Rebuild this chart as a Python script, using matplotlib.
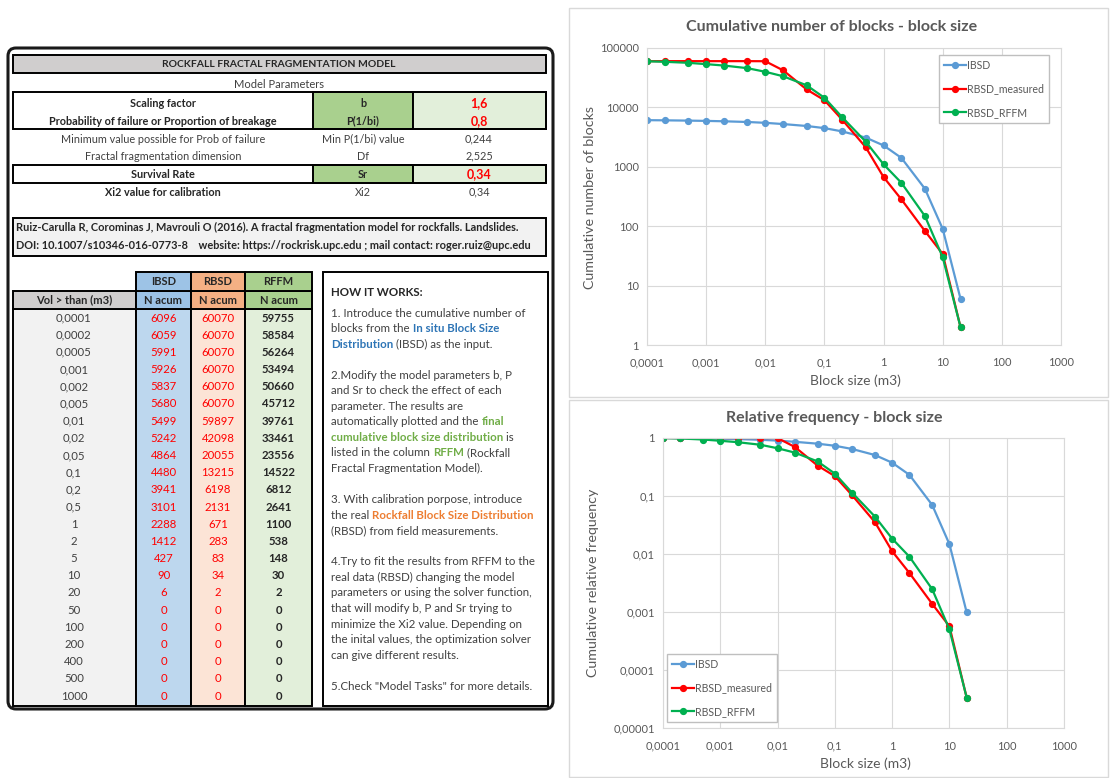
import numpy as np
import matplotlib
matplotlib.use("Agg")
import matplotlib.pyplot as plt
from matplotlib.patches import Rectangle, FancyBboxPatch
from matplotlib.ticker import FixedLocator, FixedFormatter, NullLocator

plt.rcParams["font.family"] = ["Lato", "DejaVu Sans"]

# ---- data ----
sizes = [0.0001, 0.0002, 0.0005, 0.001, 0.002, 0.005, 0.01, 0.02, 0.05, 0.1,
         0.2, 0.5, 1, 2, 5, 10, 20, 50, 100, 200, 400, 500, 1000]
ibsd = [6096, 6059, 5991, 5926, 5837, 5680, 5499, 5242, 4864, 4480, 3941, 3101,
        2288, 1412, 427, 90, 6, 0, 0, 0, 0, 0, 0]
rbsd = [60070, 60070, 60070, 60070, 60070, 60070, 59897, 42098, 20055, 13215,
        6198, 2131, 671, 283, 83, 34, 2, 0, 0, 0, 0, 0, 0]
rffm = [59755, 58584, 56264, 53494, 50660, 45712, 39761, 33461, 23556, 14522,
        6812, 2641, 1100, 538, 148, 30, 2, 0, 0, 0, 0, 0, 0]

series_names = ["IBSD", "RBSD_measured", "RBSD_RFFM"]
series_colors = ["#5B9BD5", "#FF0000", "#00B050"]

param_names = ["Scaling factor", "Probability of failure or Proportion of breakage",
               "Minimum value possible for Prob of failure", "Fractal fragmentation dimension",
               "Survival Rate", "Xi2 value for calibration"]
param_symbols = ["b", "P(1/bi)", "Min P(1/bi) value", "Df", "Sr", "Xi2"]
param_values = ["1,6", "0,8", "0,244", "2,525", "0,34", "0,34"]

citation = ["Ruiz-Carulla R, Corominas J, Mavrouli O (2016). A fractal fragmentation model for rockfalls. Landslides.",
            "DOI: 10.1007/s10346-016-0773-8    website: https://rockrisk.upc.edu ; mail contact: roger.ruiz@upc.edu"]

BLUE, GREEN, ORANGE = "#2E75B6", "#70AD47", "#ED7D31"
how_lines = [
    [("1. Introduce the cumulative number of", None)],
    [("blocks from the ", None), ("In situ Block Size", BLUE)],
    [("Distribution", BLUE), (" (IBSD) as the input.", None)],
    [],
    [("2.Modify the model parameters b, P", None)],
    [("and Sr to check the effect of each", None)],
    [("parameter. The results are", None)],
    [("automatically plotted and the ", None), ("final", GREEN)],
    [("cumulative block size distribution", GREEN), (" is", None)],
    [("listed in the column ", None), ("RFFM", GREEN), (" (Rockfall", None)],
    [("Fractal Fragmentation Model).", None)],
    [],
    [("3. With calibration porpose, introduce", None)],
    [("the real ", None), ("Rockfall Block Size Distribution", ORANGE)],
    [("(RBSD) from field measurements.", None)],
    [],
    [("4.Try to fit the results from RFFM to the", None)],
    [("real data (RBSD) changing the model", None)],
    [("parameters or using the solver function,", None)],
    [("that will modify b, P and Sr trying to", None)],
    [("minimize the Xi2 value. Depending on", None)],
    [("the inital values, the optimization solver", None)],
    [("can give different results.", None)],
    [],
    [('5.Check "Model Tasks" for more details.', None)],
]


def fmt(v):
    return np.format_float_positional(v, trim="-").replace(".", ",")


fig = plt.figure(figsize=(11.11, 7.78), dpi=100)
bg = fig.add_axes([0, 0, 1, 1])
bg.set_xlim(0, 1111)
bg.set_ylim(778, 0)
bg.axis("off")
renderer = fig.canvas.get_renderer()

TXT = "#404040"
FS = 7.5


def rect(x0, y0, x1, y1, fc="none", ec="black", lw=1.4, z=1):
    bg.add_patch(Rectangle((x0, y0), x1 - x0, y1 - y0, fc=fc, ec=ec, lw=lw, zorder=z))


def txt(x, y, s, ha="center", color=TXT, bold=False, fs=FS):
    return bg.text(x, y, s, ha=ha, va="center", color=color, fontsize=fs,
                   fontweight="bold" if bold else "normal", zorder=5)


# ---- left panel ----
bg.add_patch(FancyBboxPatch((8, 48), 545, 661, boxstyle="round,pad=0,rounding_size=8",
                            fc="white", ec="#1a1a1a", lw=2.2, zorder=0))
rect(13, 55, 546, 73, fc="#D0CECE")
txt(279, 64.5, "ROCKFALL FRACTAL FRAGMENTATION MODEL", bold=True, color="#262626")
txt(279, 84, "Model Parameters", fs=8)

row_y = [103, 121, 139, 156, 174, 192]
bold_rows = [True, True, False, False, True, True]
boxed = [0, 1, 4]
rect(313, 92, 413, 129, fc="#A9D08E")
rect(413, 92, 546, 129, fc="#E2EFDA")
rect(13, 92, 546, 129)
rect(313, 165, 413, 183, fc="#A9D08E")
rect(413, 165, 546, 183, fc="#E2EFDA")
rect(13, 165, 546, 183)
for i in range(6):
    b = bold_rows[i]
    c = "#262626" if b else TXT
    txt(163, row_y[i], param_names[i], bold=b, color=c, fs=7.8)
    txt(363, row_y[i], param_symbols[i], bold=i in boxed, color=c if i in boxed else TXT, fs=7.8)
    if i in boxed:
        txt(479, row_y[i], param_values[i], bold=True, color="#FF0000", fs=9)
    else:
        txt(479, row_y[i], param_values[i], fs=7.8)

rect(13, 218, 546, 256, fc="#F2F2F2")
txt(16, 227, citation[0], ha="left", bold=True, color="#262626", fs=7.95)
txt(16, 245, citation[1], ha="left", bold=True, color="#262626", fs=7.95)

# lower table
cols = [(13, 136), (136, 191), (191, 245), (245, 312)]
col_bg = ["#F2F2F2", "#BDD7EE", "#FCE4D6", "#E2EFDA"]
col_head = ["#D0CECE", "#9DC3E6", "#F4B084", "#A9D08E"]
head1 = ["", "IBSD", "RBSD", "RFFM"]
head2 = ["Vol > than (m3)", "N acum", "N acum", "N acum"]
for j, (x0, x1) in enumerate(cols):
    rect(x0, 309, x1, 706, fc=col_bg[j])
    rect(x0, 291, x1, 309, fc=col_head[j])
    if j > 0:
        rect(x0, 272, x1, 291, fc=col_head[j])
        txt((x0 + x1) / 2, 281.5, head1[j], bold=True, color="#262626", fs=8)
    txt((x0 + x1) / 2, 300, head2[j], bold=True, color="#262626", fs=8)

dy = (696 - 318) / (len(sizes) - 1)
for i, v in enumerate(sizes):
    y = 318 + i * dy
    txt(74, y, fmt(v), fs=8.2)
    txt(163.5, y, str(ibsd[i]), color="#FF0000", fs=8.2)
    txt(218, y, str(rbsd[i]), color="#FF0000", fs=8.2)
    txt(278.5, y, str(rffm[i]), color="#262626", bold=True, fs=8.2)

# how it works box
rect(323, 272, 548, 706, fc="white")
txt(331, 292, "HOW IT WORKS:", ha="left", bold=True, color="#262626", fs=8.3)
y0, sp = 313, 15.55
for k, pieces in enumerate(how_lines):
    x = 331
    for s, c in pieces:
        t = txt(x, y0 + k * sp, s, ha="left", color=c or TXT, bold=c is not None, fs=8.3)
        x += t.get_window_extent(renderer).width

# ---- charts ----
for (x0, y0b, x1, y1) in [(569, 8, 1108, 397), (569, 400, 1108, 777)]:
    rect(x0, y0b, x1, y1, ec="#D9D9D9", lw=1.0, z=0)

xticks = [1e-4, 1e-3, 1e-2, 1e-1, 1, 10, 100, 1000]
x = np.array(sizes)
cum = [np.array(ibsd, float), np.array(rbsd, float), np.array(rffm, float)]


def setup(ax, yticks):
    ax.set_xscale("log")
    ax.set_yscale("log")
    ax.set_xlim(1e-4, 1e3)
    ax.set_ylim(yticks[0], yticks[-1])
    ax.xaxis.set_major_locator(FixedLocator(xticks))
    ax.xaxis.set_major_formatter(FixedFormatter([fmt(v) for v in xticks]))
    ax.yaxis.set_major_locator(FixedLocator(yticks))
    ax.yaxis.set_major_formatter(FixedFormatter([fmt(v) for v in yticks]))
    ax.xaxis.set_minor_locator(NullLocator())
    ax.yaxis.set_minor_locator(NullLocator())
    ax.tick_params(length=0, labelsize=8, labelcolor="#595959")
    ax.tick_params(axis="x", pad=9)
    ax.tick_params(axis="y", pad=6)
    ax.grid(True, color="#D9D9D9", lw=0.8)
    ax.set_axisbelow(True)
    for sp_ in ax.spines.values():
        sp_.set_color("#D9D9D9")
        sp_.set_linewidth(0.8)


def draw(ax, data):
    for d, name, c in zip(data, series_names, series_colors):
        d = np.where(d > 0, d, np.nan)
        ax.plot(x, d, color=c, lw=1.6, marker="o", ms=4.2, label=name)


leg_kw = dict(loc="upper left", bbox_transform=fig.transFigure, fancybox=False,
              edgecolor="#BFBFBF", fontsize=7.6, labelspacing=1.2, handlelength=2.1,
              handletextpad=0.15, borderpad=0.45, borderaxespad=0, labelcolor="#595959",
              framealpha=1)

ax1 = fig.add_axes([647 / 1111, 1 - 345 / 778, 414 / 1111, 297 / 778])
draw(ax1, cum)
setup(ax1, [1, 10, 100, 1000, 10000, 100000])
ax1.legend(bbox_to_anchor=(939 / 1111, 1 - 55 / 778), **leg_kw)

ax2 = fig.add_axes([663 / 1111, 1 - 728 / 778, 401 / 1111, 290 / 778])
draw(ax2, [d / d[0] for d in cum])
setup(ax2, [1e-5, 1e-4, 1e-3, 1e-2, 1e-1, 1])
ax2.legend(bbox_to_anchor=(667 / 1111, 1 - 654 / 778), **leg_kw)

tc = "#595959"
txt(832, 27, "Cumulative number of blocks - block size", bold=True, color=tc, fs=11.5)
txt(855, 381, "Block size (m3)", color=tc, fs=10)
bg.text(590, 197, "Cumulative number of blocks", rotation=90, ha="center", va="center",
        color=tc, fontsize=10.3)
txt(834, 418, "Relative frequency - block size", bold=True, color=tc, fs=11.5)
txt(865, 764, "Block size (m3)", color=tc, fs=10)
bg.text(593, 583, "Cumulative relative frequency", rotation=90, ha="center", va="center",
        color=tc, fontsize=10.3)

fig.savefig("out.png", dpi=100, facecolor="white")
